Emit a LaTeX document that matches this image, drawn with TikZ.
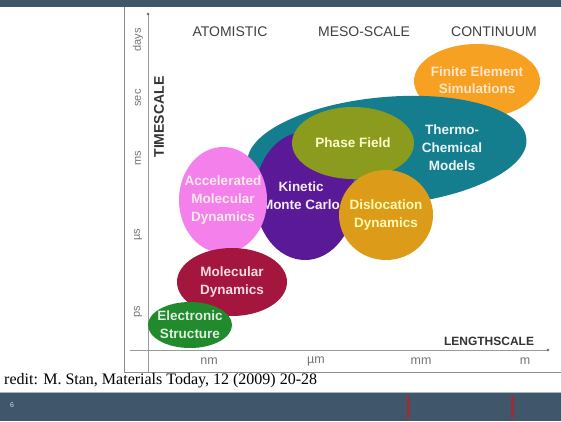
\documentclass[tikz,border=0pt]{standalone}
\usepackage{fontspec}
\setmainfont{Liberation Sans}
\newfontfamily\creditfont{Liberation Serif}
\usetikzlibrary{shapes.geometric}
\definecolor{barslate}{RGB}{64,86,106}
\definecolor{feorange}{RGB}{247,161,35}
\definecolor{tcteal}{RGB}{20,126,142}
\definecolor{pfolive}{RGB}{139,155,30}
\definecolor{kmcpurple}{RGB}{90,26,152}
\definecolor{ddgold}{RGB}{221,155,26}
\definecolor{amdpink}{RGB}{244,128,236}
\definecolor{mdred}{RGB}{164,22,62}
\definecolor{esgreen}{RGB}{32,138,44}

\begin{document}
\begin{tikzpicture}[x=1pt, y=-1pt,
  blob/.style={ellipse, inner sep=0pt},
  blobtext/.style={inner sep=0pt, align=center, font=\fontsize{13.5}{18}\selectfont\bfseries},
  scalelbl/.style={text=black!75, font=\fontsize{14}{16}\selectfont},
  ticklbl/.style={text=black!55, font=\fontsize{11}{13}\selectfont},
  lenlbl/.style={text=black!55, font=\fontsize{12.5}{14}\selectfont},
  axisname/.style={text=black!80, font=\fontsize{12}{14}\selectfont\bfseries},
  axisline/.style={draw=black!40, line width=0.8pt}
]
  \useasboundingbox[fill=white] (0,0) rectangle (561,421);

  % slide bars and frame
  \fill[barslate] (0,0) rectangle (561,7);
  \fill[barslate] (0,392) rectangle (561,421);
  \draw[black!30, line width=0.6pt] (0,392.3) -- (561,392.3);
  \draw[black!45, line width=0.8pt] (124,7) -- (124,372) -- (561,372);
  \node[text=white!80!barslate, font=\fontsize{7}{8}\selectfont] (pagenum) at (12,405) {6};
  \fill[red!45!barslate] (407,396) rectangle (409.5,418);
  \fill[red!45!barslate] (511,396) rectangle (513.5,418);

  % axes
  \coordinate (ytop) at (148,14);
  \coordinate (ybot) at (148,372);
  \coordinate (xleft) at (130,350);
  \coordinate (xright) at (548,350);
  \draw[axisline] (ybot) -- (ytop);
  \draw[axisline] (xleft) -- (xright);
  \fill[black!60] (ytop) circle (1.4);
  \fill[black!60] (xright) circle (1.4);

  \node[axisname, rotate=90, font=\fontsize{14}{16}\selectfont\bfseries] (timescale) at (159,117) {TIMESCALE};
  \node[axisname] (lengthscale) at (489,341) {LENGTHSCALE};

  \node[ticklbl, rotate=90] (tdays) at (138,40) {days};
  \node[ticklbl, rotate=90] (tsec) at (138,98) {sec};
  \node[ticklbl, rotate=90] (tms) at (138,158) {ms};
  \node[ticklbl, rotate=90] (tus) at (138,235) {µs};
  \node[ticklbl, rotate=90] (tps) at (138,312) {ps};

  \node[lenlbl] (lnm) at (209,361) {nm};
  \node[lenlbl] (lum) at (316,361) {µm};
  \node[lenlbl] (lmm) at (421,361) {mm};
  \node[lenlbl] (lm) at (525,361) {m};

  \node[scalelbl] (atomistic) at (230,32) {ATOMISTIC};
  \node[scalelbl] (meso) at (364,32) {MESO-SCALE};
  \node[scalelbl] (continuum) at (494,32) {CONTINUUM};

  % methods
  \node[blob, fill=feorange, minimum width=126pt, minimum height=74pt] (fem) at (477,81) {};
  \node[blobtext, text=orange!20] (femtxt) at (477,80) {Finite Element\\[-1pt]Simulations};
  \node[blob, fill=tcteal, minimum width=280pt, minimum height=108pt, rotate=5] (thermo) at (387,151) {};
  \node[blobtext, text=white!92!tcteal] (thermotxt) at (452,148) {Thermo-\\Chemical\\Models};
  \node[blob, fill=kmcpurple, minimum width=100pt, minimum height=128pt] (kmc) at (305,196) {};
  \node[blobtext, text=white!92!kmcpurple] (kmctxt) at (301,196) {Kinetic\\Monte Carlo};
  \node[blob, fill=pfolive, minimum width=122pt, minimum height=72pt] (phase) at (353,143) {};
  \node[blobtext, text=yellow!20] (phasetxt) at (phase) {Phase Field};
  \node[blob, fill=ddgold, minimum width=94pt, minimum height=90pt] (disloc) at (386,215) {};
  \node[blobtext, text=yellow!30] (disloctxt) at (disloc) {Dislocation\\Dynamics};
  \node[blob, fill=amdpink, minimum width=88pt, minimum height=106pt] (amd) at (223,200) {};
  \node[blobtext, text=pink!35] (amdtxt) at (amd) {Accelerated\\Molecular\\Dynamics};
  \node[blob, fill=mdred, minimum width=110pt, minimum height=68pt] (md) at (232,282) {};
  \node[blobtext, text=white!85!mdred] (mdtxt) at (md) {Molecular\\Dynamics};
  \node[blob, fill=esgreen, minimum width=84pt, minimum height=46pt] (es) at (190,325) {};
  \node[blobtext, text=white!85!esgreen] (estxt) at (es) {Electronic\\Structure};

  % credit line
  \node[anchor=west, inner sep=0pt, font=\creditfont\fontsize{16}{18}\selectfont] (credit) at (4,381) {redit: M. Stan, Materials Today, 12 (2009) 20-28};
\end{tikzpicture}
\end{document}
